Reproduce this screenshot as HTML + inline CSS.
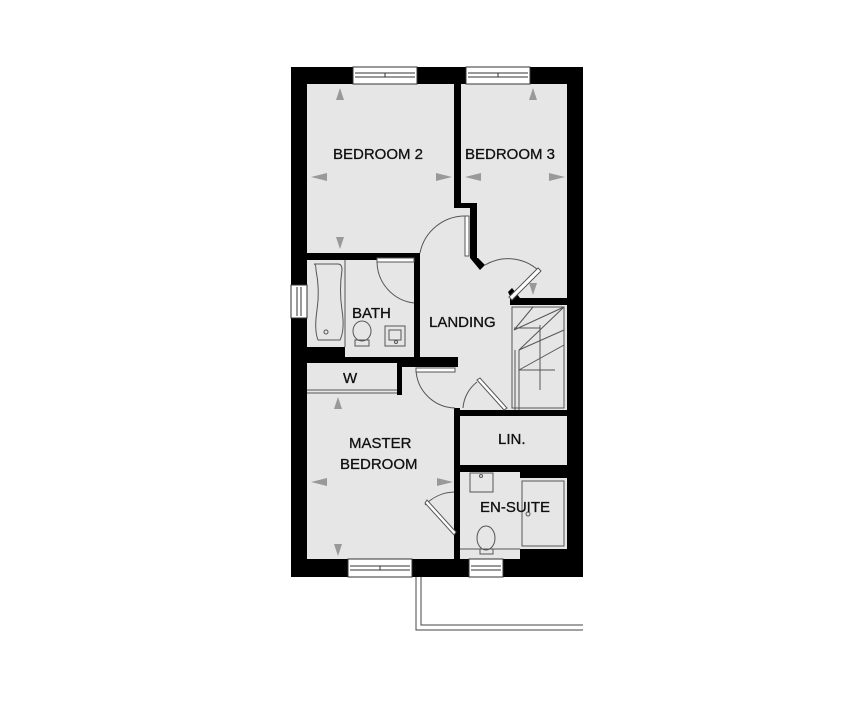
<!DOCTYPE html>
<html><head><style>
html,body{margin:0;padding:0;background:#fff;}
svg{display:block}
text{font-family:"Liberation Sans",sans-serif;font-size:15px;fill:#111;stroke:#111;stroke-width:0.3px;}
</style></head><body>
<svg width="868" height="709" viewBox="0 0 868 709" xmlns="http://www.w3.org/2000/svg">
<rect x="291" y="67" width="292" height="510" fill="#000"/>
<g fill="#e6e6e6">
<rect x="307" y="84" width="147" height="169"/>
<rect x="461" y="84" width="106" height="119"/>
<rect x="477" y="203" width="90" height="95"/>
<polygon points="420,253 467,253 467,208 470,208 470,258 510,290 510,410 459,410 459,408 455,408 458,367 458,360 420,360"/>
<rect x="420" y="208" width="50" height="50"/>
<rect x="420" y="258" width="92" height="152"/>
<rect x="307" y="260" width="107" height="87"/>
<rect x="345" y="347" width="69" height="10"/>
<rect x="307" y="363" width="90" height="30"/>
<rect x="307" y="393" width="147" height="166"/>
<rect x="402" y="367" width="56" height="41"/>
<rect x="512" y="305" width="55" height="105"/>
<rect x="460" y="416" width="107" height="49"/>
<rect x="460" y="472" width="60" height="87"/>
<rect x="520" y="478" width="47" height="71"/>
</g>
<g fill="#000">
<rect x="454" y="203" width="23" height="5"/>
<rect x="470" y="203" width="7" height="55"/>
<rect x="414" y="303" width="6" height="60"/>
<rect x="420" y="357" width="38" height="10"/>
<rect x="454" y="408" width="6" height="84"/>
<rect x="454" y="534" width="6" height="25"/>
<rect x="505" y="410" width="62" height="6"/>
<rect x="460" y="465" width="107" height="7"/>
<rect x="520" y="472" width="47" height="6"/>
<rect x="510" y="298" width="57" height="7"/>
<polygon points="470,258 478,258 485,265 480,270"/>
<polygon points="508,292 512,288 520,298 512,300"/>
<rect x="307" y="347" width="38" height="16"/>
<rect x="307" y="357" width="113" height="6"/>
<rect x="397" y="363" width="5" height="32"/>
</g>
<g fill="none" stroke="#555" stroke-width="1">
<line x1="345" y1="260" x2="345" y2="347"/>
<line x1="307" y1="390" x2="397" y2="390"/>
<line x1="307" y1="393" x2="397" y2="393"/>
<path d="M314,264 h24 q4,0 4,6 q-3,20 0,40 q3,20 -2,30 h-22 q-4,-10 -1,-30 q3,-20 -1,-40 q0,-6 -2,-6z"/>
<circle cx="326" cy="332" r="2"/>
<ellipse cx="362" cy="331" rx="9" ry="10"/>
<rect x="355" y="340" width="14" height="6"/>
<rect x="385" y="326" width="20" height="20"/>
<rect x="389" y="330" width="12" height="10"/>
<circle cx="396" cy="342" r="1.5"/>
<rect x="470" y="473" width="23" height="19"/>
<circle cx="481" cy="476" r="1.5"/>
<ellipse cx="486" cy="538" rx="9" ry="12"/>
<rect x="480" y="549" width="13" height="5"/>
<line x1="460" y1="549" x2="520" y2="549"/>
<rect x="522" y="481" width="42" height="65"/>
<circle cx="528" cy="514" r="2"/>
<path d="M420,253 A46,46 0 0 1 466,216"/>
<rect x="465" y="216" width="4" height="40" fill="#fff"/>
<path d="M377,262 A42,42 0 0 0 414,303"/>
<rect x="377" y="258" width="37" height="4" fill="#fff"/>
<path d="M485,265 A45,45 0 0 1 538,270"/>
<polygon points="538,268 541,271 512,300 509,297" fill="#fff"/>
<path d="M416,371 A40,40 0 0 0 455,408"/>
<rect x="416" y="368" width="39" height="4" fill="#fff"/>
<path d="M463,408 A36,36 0 0 1 477,382"/>
<polygon points="477,380 480,378 507,408 504,410" fill="#fff"/>
<path d="M425,505 A42,42 0 0 1 454,492"/>
<polygon points="425,503 427,500 456,532 454,535" fill="#fff"/>
<rect x="512" y="307" width="52" height="101"/>
<line x1="515" y1="350" x2="515" y2="410"/>
<line x1="519" y1="350" x2="519" y2="410"/>
<line x1="514" y1="330" x2="564" y2="307"/>
<line x1="514" y1="330" x2="533" y2="307"/>
<line x1="519" y1="350" x2="564" y2="330"/>
<line x1="519" y1="350" x2="564" y2="307"/>
<line x1="519" y1="370" x2="564" y2="345"/>
<line x1="519" y1="370" x2="555" y2="370"/>
<line x1="540" y1="325" x2="540" y2="390"/>
<line x1="514" y1="328" x2="540" y2="328"/>
</g>
<g fill="#fff" stroke="#333" stroke-width="1">
<rect x="353" y="67" width="64" height="17"/>
<line x1="355" y1="73" x2="415" y2="73"/><line x1="355" y1="77" x2="415" y2="77"/><line x1="385" y1="73" x2="385" y2="77"/>
<rect x="466" y="67" width="64" height="17"/>
<line x1="468" y1="73" x2="528" y2="73"/><line x1="468" y1="77" x2="528" y2="77"/><line x1="498" y1="73" x2="498" y2="77"/>
<rect x="291" y="285" width="16" height="33"/>
<line x1="297" y1="287" x2="297" y2="316"/><line x1="301" y1="287" x2="301" y2="316"/>
<rect x="348" y="559" width="64" height="18"/>
<line x1="350" y1="566" x2="410" y2="566"/><line x1="350" y1="570" x2="410" y2="570"/><line x1="380" y1="566" x2="380" y2="570"/>
<rect x="469" y="559" width="34" height="18"/>
<line x1="471" y1="566" x2="501" y2="566"/><line x1="471" y1="570" x2="501" y2="570"/>
</g>
<polyline points="416,577 416,630 583,630" fill="none" stroke="#444" stroke-width="1"/>
<polyline points="421,577 421,625 583,625" fill="none" stroke="#444" stroke-width="1"/>
<g fill="#999">
<polygon points="340,88 336,100 344,100"/><polygon points="340,249 336,237 344,237"/>
<polygon points="311,177 327,173 327,181"/><polygon points="452,177 436,173 436,181"/>
<polygon points="533,88 529,100 537,100"/><polygon points="533,295 529,283 537,283"/>
<polygon points="465,177 481,173 481,181"/><polygon points="565,177 549,173 549,181"/>
<polygon points="338,397 334,409 342,409"/><polygon points="338,556 334,544 342,544"/>
<polygon points="311,482 327,478 327,486"/><polygon points="453,482 437,478 437,486"/>
</g>
<text x="333" y="159">BEDROOM 2</text>
<text x="465" y="159">BEDROOM 3</text>
<text x="352" y="318">BATH</text>
<text x="429" y="327">LANDING</text>
<text x="343" y="383">W</text>
<text x="349" y="448">MASTER</text>
<text x="340" y="469">BEDROOM</text>
<text x="498" y="444">LIN.</text>
<text x="480" y="512">EN-SUITE</text>
</svg>
</body></html>
